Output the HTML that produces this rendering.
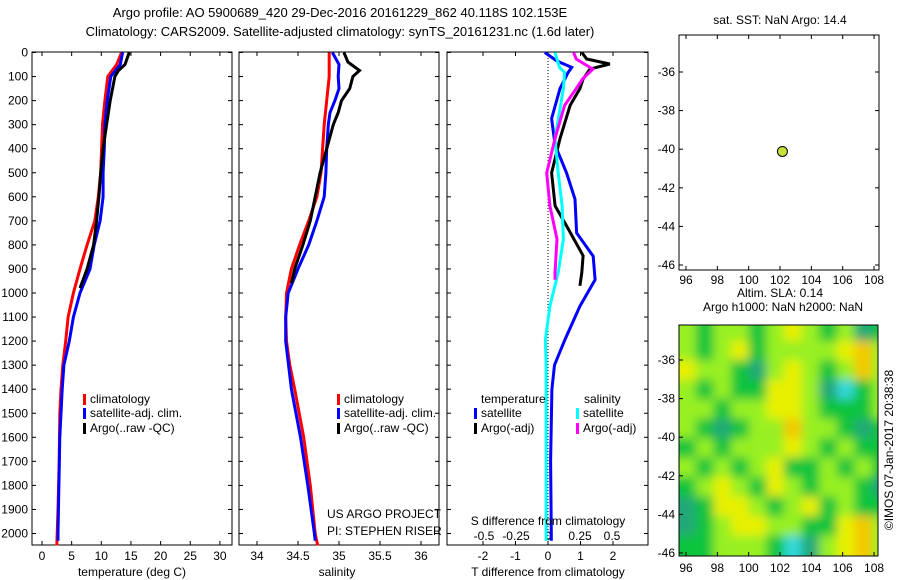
<!DOCTYPE html>
<html><head><meta charset="utf-8">
<style>
body{margin:0;background:#fff;}
svg{display:block;font-family:"Liberation Sans",sans-serif;}
text{font-size:12px;fill:#000;}
</style></head>
<body>
<svg id="chart" width="900" height="580" xmlns="http://www.w3.org/2000/svg">
<text x="340" y="17" text-anchor="middle" style="font-size:13px">Argo profile: AO 5900689_420 29-Dec-2016 20161229_862 40.118S 102.153E</text>
<text x="340" y="36" text-anchor="middle" style="font-size:13px">Climatology: CARS2009. Satellite-adjusted climatology: synTS_20161231.nc (1.6d later)</text>
</svg>
<script>
// ---- data ----
const depthTicks=[0,100,200,300,400,500,600,700,800,900,1000,1100,1200,1300,1400,1500,1600,1700,1800,1900,2000];
const tempTicks=[0,5,10,15,20,25,30];
const salTicks=[34,34.5,35,35.5,36];
const tdTicks=[-2,-1,0,1,2];
const sdTicks=[-0.5,-0.25,0,0.25,0.5];
const lonTicks=[96,98,100,102,104,106,108];
const latTicks=[-36,-38,-40,-42,-44,-46];

const tClimDepth=[0,50,100,200,300,500,600,700,800,900,1000,1100,1200,1300,1400,1500,1700,1900,2050];
const tClim=[13.4,12.6,11.1,10.6,10.2,9.9,9.5,8.9,7.6,6.4,5.3,4.4,4.0,3.5,3.2,3.0,2.9,2.7,2.5];
const tSatDepth=[0,50,100,200,300,400,500,600,700,800,900,1000,1100,1200,1300,1400,1600,2000,2030];
const tSat=[13.6,13.2,11.6,11.0,10.6,10.5,10.3,10.3,9.8,8.8,8.1,6.4,5.3,4.6,3.7,3.4,3.0,2.7,2.7];
const tArgoDepth=[0,50,75,100,200,300,400,500,600,700,800,900,980];
const tArgo=[14.7,14.0,12.9,12.3,11.5,10.9,10.3,9.9,9.6,9.2,8.7,7.6,6.4];

const sClimDepth=[0,100,200,300,400,500,600,700,800,900,1000,1100,1200,1300,1400,1600,1800,2000,2050];
const sClim=[34.88,34.88,34.85,34.82,34.80,34.78,34.73,34.63,34.52,34.42,34.36,34.35,34.36,34.40,34.46,34.57,34.65,34.71,34.74];
const sSatDepth=[0,50,100,150,200,250,300,400,500,600,700,800,900,1000,1100,1200,1400,1600,1800,2000,2030];
const sSat=[34.92,35.0,34.99,35.0,34.95,34.89,34.87,34.85,34.84,34.82,34.73,34.63,34.50,34.38,34.35,34.35,34.42,34.53,34.62,34.70,34.71];
const sArgoDepth=[0,40,75,100,150,200,250,300,400,500,600,700,800,900,960];
const sArgo=[35.06,35.11,35.25,35.17,35.13,35.03,34.99,34.93,34.85,34.77,34.71,34.65,34.56,34.46,34.42];

const dTSatDepth=[0,35,62,83,150,275,385,500,610,750,847,945,1055,1194,1300,1400,1700,2000,2030];
const dTSat=[-0.1,0.27,0.73,0.62,0.37,0.11,0.22,0.57,0.83,0.88,1.39,1.45,0.98,0.52,0.2,0.12,0.08,0.1,0.1];
const dTArgoDepth=[0,27,48,69,110,150,220,358,500,638,720,845,915,970];
const dTArgo=[1.04,1.19,1.9,1.29,1.08,0.98,0.68,0.37,0.11,0.22,0.57,1.08,1.04,0.98];
const dSSatDepth=[0,62,83,150,358,500,638,776,915,1055,1194,1300,1600,2000,2030];
const dSSat=[0.055,0.09,0.13,0.12,0.055,0.08,0.11,0.12,0.08,0.015,-0.02,-0.015,-0.015,-0.015,-0.015];
const dSArgoDepth=[0,27,69,110,150,220,358,500,638,776,915,945];
const dSArgo=[0.2,0.22,0.35,0.27,0.22,0.13,0.055,-0.01,0.015,0.07,0.055,0.055];

const argoLon=[102.153];
const argoLat=[-40.118];
// SLA map levels: rows from -34 (top) to -46, columns west to east
const slaRows=[
[1,0,1,1,0,1,2,1,0,1,-1,0],
[1,0,1,2,0,1,1,1,1,2,3,1],
[2,1,1,0,-1,1,2,1,0,1,3,1],
[1,0,1,0,0,2,2,1,-1,-2,0,1],
[1,1,0,1,1,2,2,1,0,0,0,1],
[1,0,-1,0,1,1,3,1,1,0,-1,0],
[0,1,0,1,1,1,2,1,0,1,0,0],
[1,0,1,0,1,2,0,0,1,0,1,0],
[0,1,2,1,0,2,1,0,1,1,0,-1],
[-1,0,2,2,1,0,1,2,0,1,0,0],
[-1,0,1,2,2,1,1,0,0,2,3,1],
[0,0,1,1,1,0,-2,-1,1,2,3,1]];

// ---- helpers ----
const NS="http://www.w3.org/2000/svg";
const svg=document.getElementById('chart');
function mk(tag,attrs,parent){const e=document.createElementNS(NS,tag);for(const k in attrs)e.setAttribute(k,attrs[k]);(parent||svg).appendChild(e);return e;}
function txt(x,y,s,anchor,parent){const t=mk('text',{x:x,y:y,'text-anchor':anchor||'start'},parent);t.textContent=s;return t;}
const yD=d=>52.5+d*0.2405;
const xT=v=>42+v*5.93;
const xS=v=>257+(v-34)*82;
const xdT=v=>548+v*32.5;
const xdS=v=>548+v*128;
const xLon=v=>686+(v-96)*15.67;
const yLat=v=>72+(-36-v)*19.3;
const yLat2=v=>360+(-36-v)*19.3;

function panel(name,x0,x1){
  const r=mk('rect',{x:x0,y:52,width:x1-x0,height:493,fill:'none',stroke:'#000','stroke-width':1});
  
  
  depthTicks.forEach(d=>{
    mk('line',{x1:x0,x2:x0+4,y1:yD(d),y2:yD(d),stroke:'#000'});
    mk('line',{x1:x1,x2:x1-4,y1:yD(d),y2:yD(d),stroke:'#000'});
  });
}
function line(xs,ds,fx,color,name){
  const pts=xs.map((v,i)=>fx(v).toFixed(1)+','+yD(ds[i]).toFixed(1)).join(' ');
  const p=mk('polyline',{points:pts,fill:'none',stroke:color,'stroke-width':3});
  
  
}
function xticks(ticks,fx,yb,labY,fmt,top){
  ticks.forEach(v=>{
    const x=fx(v);
    mk('line',{x1:x,x2:x,y1:545,y2:541,stroke:'#000'});
    if(top)mk('line',{x1:x,x2:x,y1:52,y2:56,stroke:'#000'});
    const t=txt(x,labY,fmt?fmt(v):String(v),'middle');
    
    
  });
}
function legItem(x,y,color,label){
  mk('rect',{x:x,y:y-9,width:3,height:11,fill:color});
  const t=txt(x+7,y,label);
  
  
}

depthTicks.forEach(d=>{
  const t=txt(28,yD(d)+4,String(d),'end');
  
  
});

// panel 1 temperature
panel('temperature-panel',32,232);
xticks(tempTicks,xT,545,560,null,true);
line(tClim,tClimDepth,xT,'#ff0000','temp-climatology-line');
line(tSat,tSatDepth,xT,'#0000ff','temp-satellite-line');
line(tArgo,tArgoDepth,xT,'#000000','temp-argo-line');
let t=txt(132,576,'temperature (deg C)','middle');


legItem(83,403,'#ff0000','climatology');
legItem(83,417,'#0000ff','satellite-adj. clim.');
legItem(83,432,'#000000','Argo(..raw -QC)');

// panel 2 salinity
panel('salinity-panel',239,439);
xticks(salTicks,xS,545,560,v=>String(v),true);
line(sClim,sClimDepth,xS,'#ff0000','sal-climatology-line');
line(sSat,sSatDepth,xS,'#0000ff','sal-satellite-line');
line(sArgo,sArgoDepth,xS,'#000000','sal-argo-line');
t=txt(337,576,'salinity','middle');


legItem(337,403,'#ff0000','climatology');
legItem(337,417,'#0000ff','satellite-adj. clim.');
legItem(337,432,'#000000','Argo(..raw -QC)');
t=txt(327,518,'US ARGO PROJECT');


t=txt(327,535,'PI: STEPHEN RISER');



// panel 3 differences
panel('difference-panel',447,648);
mk('line',{x1:xdT(0),x2:xdT(0),y1:52,y2:545,stroke:'#000','stroke-dasharray':'1,2'});
xticks(tdTicks,xdT,545,560,null,true);
sdTicks.forEach(v=>{
  const tt=txt(xdS(v),540,String(v),'middle');
  
  
});
line(dTSat,dTSatDepth,xdT,'#0000ff','tdiff-satellite-line');
line(dTArgo,dTArgoDepth,xdT,'#000000','tdiff-argo-line');
line(dSSat,dSSatDepth,xdS,'#00ffff','sdiff-satellite-line');
line(dSArgo,dSArgoDepth,xdS,'#ff00ff','sdiff-argo-line');
t=txt(548,576,'T difference from climatology','middle');


t=txt(548,525,'S difference from climatology','middle');


t=txt(481,403,'temperature');


t=txt(584,403,'salinity');


legItem(474,417,'#0000ff','satellite');
legItem(474,432,'#000000','Argo(-adj)');
legItem(576,417,'#00ffff','satellite');
legItem(576,432,'#ff00ff','Argo(-adj)');

// top-right map
t=txt(780,24,'sat. SST: NaN Argo: 14.4','middle');


const m1=mk('rect',{x:679,y:35,width:200,height:235,fill:'none',stroke:'#000'});


lonTicks.forEach(v=>{
  mk('line',{x1:xLon(v),x2:xLon(v),y1:270,y2:266,stroke:'#000'});
  mk('line',{x1:xLon(v),x2:xLon(v),y1:35,y2:39,stroke:'#000'});
  const tt=txt(xLon(v),284,String(v),'middle');
  
  
});
latTicks.forEach(v=>{
  mk('line',{x1:679,x2:683,y1:yLat(v),y2:yLat(v),stroke:'#000'});
  mk('line',{x1:879,x2:875,y1:yLat(v),y2:yLat(v),stroke:'#000'});
  const tt=txt(675,yLat(v)+4,String(v),'end');
  
  
});
argoLon.forEach((lo,i)=>{
  const c=mk('circle',{cx:xLon(lo),cy:yLat(argoLat[i]),r:5,fill:'#c8e03c',stroke:'#000','stroke-width':1});
  
  
});

// bottom-right SLA map
t=txt(780,297,'Altim. SLA: 0.14','middle');


t=txt(783,311,'Argo h1000: NaN h2000: NaN','middle');


const defs=mk('defs',{});
const cp=mk('clipPath',{id:'mc'},defs);
mk('rect',{x:679,y:325,width:199,height:231},cp);
const fl=mk('filter',{id:'bl',filterUnits:'userSpaceOnUse',x:640,y:290,width:280,height:300},defs);
mk('feGaussianBlur',{stdDeviation:'5'},fl);
const cols={'-2':'#30d8d8','-1':'#20a878','0':'#10c43c','1':'#98f020','2':'#e8f000','3':'#f4c800'};
const g1=mk('g',{'clip-path':'url(#mc)'});
const g=mk('g',{filter:'url(#bl)'},g1);


const nC=slaRows[0].length, nR=slaRows.length;
const lon0=95.5, lon1=109, lat0=-34, lat1=-46.1;
slaRows.forEach((row,ri)=>{
  row.forEach((v,ci)=>{
    const xa=xLon(lon0+(lon1-lon0)*ci/nC), xb=xLon(lon0+(lon1-lon0)*(ci+1)/nC);
    const ya=yLat2(lat0+(lat1-lat0)*ri/nR), yb=yLat2(lat0+(lat1-lat0)*(ri+1)/nR);
    const c=mk('rect',{x:xa-10*(ci==0),y:ya-12*(ri==0),width:xb-xa+1+10*(ci==0)+10*(ci==nC-1),height:yb-ya+1+12*(ri==0)+12*(ri==nR-1),fill:cols[String(v)]},g);
    
    
  });
});
mk('rect',{x:679,y:325,width:199,height:231,fill:'none',stroke:'#000'});
lonTicks.forEach(v=>{
  mk('line',{x1:xLon(v),x2:xLon(v),y1:556,y2:552,stroke:'#000'});
  const tt=txt(xLon(v),572,String(v),'middle');
  
  
});
latTicks.forEach(v=>{
  mk('line',{x1:679,x2:683,y1:yLat2(v),y2:yLat2(v),stroke:'#000'});
  const tt=txt(675,yLat2(v)+4,String(v),'end');
  
  
});
t=txt(0,0,'©IMOS 07-Jan-2017 20:38:38','middle');
t.setAttribute('transform','translate(893,450) rotate(-90)');


</script>
</body></html>
